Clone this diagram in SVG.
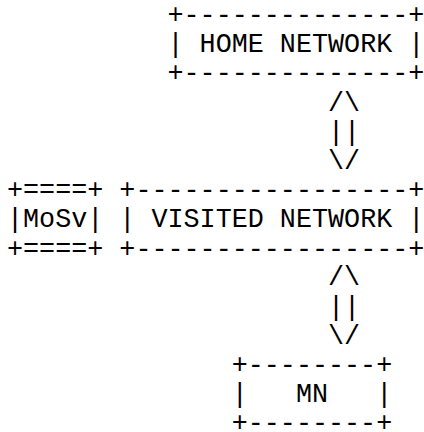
<svg xmlns="http://www.w3.org/2000/svg" width="424" height="432" viewBox="0 0 424 432">
<style>
text{font-family:"Liberation Mono","Courier New",monospace;font-size:26.75px;fill:#000;white-space:pre}
</style>
<rect width="424" height="432" fill="#fff"/>
<g id="home-network">
<text x="167.5" y="23" xml:space="preserve">+--------------+</text>
<text x="167.5" y="52.2" xml:space="preserve">| HOME NETWORK |</text>
<text x="167.5" y="81.4" xml:space="preserve">+--------------+</text>
</g>
<g id="connectors">
<text x="328" y="110.6">/\</text>
<text x="328" y="139.8">||</text>
<text x="328" y="169">\/</text>
<text x="328" y="285.4">/\</text>
<text x="328" y="314.6">||</text>
<text x="328" y="343.8">\/</text>
</g>
<g id="mosv">
<text x="7" y="198.2">+====+</text>
<text x="7" y="227.4">|MoSv|</text>
<text x="7" y="256.6">+====+</text>
</g>
<g id="visited-network">
<text x="119.35" y="198.2" xml:space="preserve">+-----------------+</text>
<text x="119.35" y="227.4" xml:space="preserve">| VISITED NETWORK |</text>
<text x="119.35" y="256.6" xml:space="preserve">+-----------------+</text>
</g>
<g id="mn">
<text x="231.7" y="373" xml:space="preserve">+--------+</text>
<text x="231.7" y="402.2" xml:space="preserve">|   MN   |</text>
<text x="231.7" y="431.4" xml:space="preserve">+--------+</text>
</g>
</svg>
